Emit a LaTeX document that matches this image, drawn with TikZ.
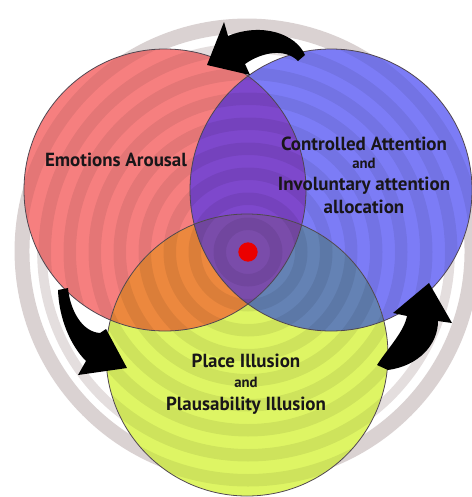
\documentclass[tikz,border=0pt]{standalone}
\usepackage{fontspec}
\setmainfont{PT Sans}
\usetikzlibrary{calc}

\definecolor{redfill}{RGB}{246,127,127}
\definecolor{bluefill}{RGB}{124,124,246}
\definecolor{yelfill}{RGB}{222,245,100}
\definecolor{rbfill}{RGB}{126,72,204}
\definecolor{ryfill}{RGB}{236,136,62}
\definecolor{byfill}{RGB}{100,130,180}
\definecolor{rbyfill}{RGB}{122,76,170}
\definecolor{ringgray}{RGB}{218,210,210}
\definecolor{ringlight}{RGB}{228,222,222}
\definecolor{edgegray}{RGB}{80,70,80}
\definecolor{labeltext}{RGB}{25,22,25}

\begin{document}
\begin{tikzpicture}[
  x=0.02cm, y=-0.02cm,
  lbl/.style={align=center, inner sep=0pt, text=labeltext,
    font=\fontsize{10.8}{12.6}\selectfont\bfseries},
  ring/.style={draw=ringgray, line width=8.5pt},
  innerring/.style={draw=ringlight, line width=5.5pt},
  stripe/.style={fill=black, opacity=0.07, even odd rule},
  edge/.style={draw=edgegray, line width=0.45pt},
  arrowfill/.style={fill=black},
]

% ---- geometry (pixel grid, y downwards) ----
\def\rad{141}
\coordinate (cr) at (165,190); % emotions (red)
\coordinate (cb) at (331,190); % attention (blue)
\coordinate (cy) at (247,355); % illusion (yellow)
\coordinate (mid) at (248,252);

\useasboundingbox (0,0) rectangle (471,497);

% =====================================================
% BACKGROUND RING
% =====================================================
\draw[ring] (247,251) circle (225);
\draw[innerring] (246,252) circle (204);

% =====================================================
% THREE CIRCLES AND THEIR OVERLAPS
% =====================================================
\fill[redfill]  (cr) circle (\rad);
\fill[bluefill] (cb) circle (\rad);
\fill[yelfill]  (cy) circle (\rad);
\begin{scope}
  \clip (cr) circle (\rad);
  \fill[rbfill] (cb) circle (\rad);
  \fill[ryfill] (cy) circle (\rad);
  \clip (cb) circle (\rad);
  \fill[rbyfill] (cy) circle (\rad);
\end{scope}
\begin{scope}
  \clip (cb) circle (\rad);
  \clip (cy) circle (\rad);
  \fill[byfill] (cr) circle (\rad);
  \fill[byfill] (cy) circle (\rad);
  \clip (cr) circle (\rad);
  \fill[rbyfill] (cy) circle (\rad);
\end{scope}

% concentric stripes round the middle
\begin{scope}
  \clip (cr) circle (\rad) (cb) circle (\rad) (cy) circle (\rad);
  \foreach \r in {22,47,...,334}
    \fill[stripe] (mid) circle (\r) circle (\r+12.5);
\end{scope}

\draw[edge] (cr) circle (\rad);
\draw[edge] (cb) circle (\rad);
\draw[edge] (cy) circle (\rad);

% =====================================================
% CURVED ARROWS (counter-clockwise)
% =====================================================
% top: attention -> emotions
\fill[arrowfill] (305,55) .. controls (296,34) and (262,22) .. (228,36)
  -- (224,22) -- (207,65) -- (250,75) -- (245,64)
  .. controls (262,52) and (285,48) .. (298,61) -- cycle;
% left: emotions -> illusion
\fill[arrowfill] (58,290) -- (68,288) .. controls (70,310) and (82,332) .. (100,333)
  -- (106,329) -- (127,368) -- (78,375) -- (86,361)
  .. controls (70,345) and (59,318) .. (58,290) -- cycle;
% right: illusion -> attention
\fill[arrowfill] (377,365) .. controls (388,348) and (404,332) .. (407,316)
  -- (393,313) -- (429,283) -- (452,323) -- (438,321)
  .. controls (438,345) and (418,366) .. (388,370) -- cycle;

% =====================================================
% LABELS
% =====================================================
\node[lbl] (emo) at (116,160) {Emotions Arousal};
\node[lbl] (att) at (364,175) {Controlled Attention\\[-2pt]
  {\fontsize{8.4}{9}\selectfont and}\\
  Involuntary attention\\allocation};
\node[lbl] (ill) at (246,384) {Place Illusion\\[-1pt]
  {\fontsize{8.4}{9}\selectfont and}\\
  Plausability Illusion};

% red dot at the common centre
\node[circle, fill=red!92!black, minimum size=11pt, inner sep=0pt] (dot) at (mid) {};

\end{tikzpicture}
\end{document}
